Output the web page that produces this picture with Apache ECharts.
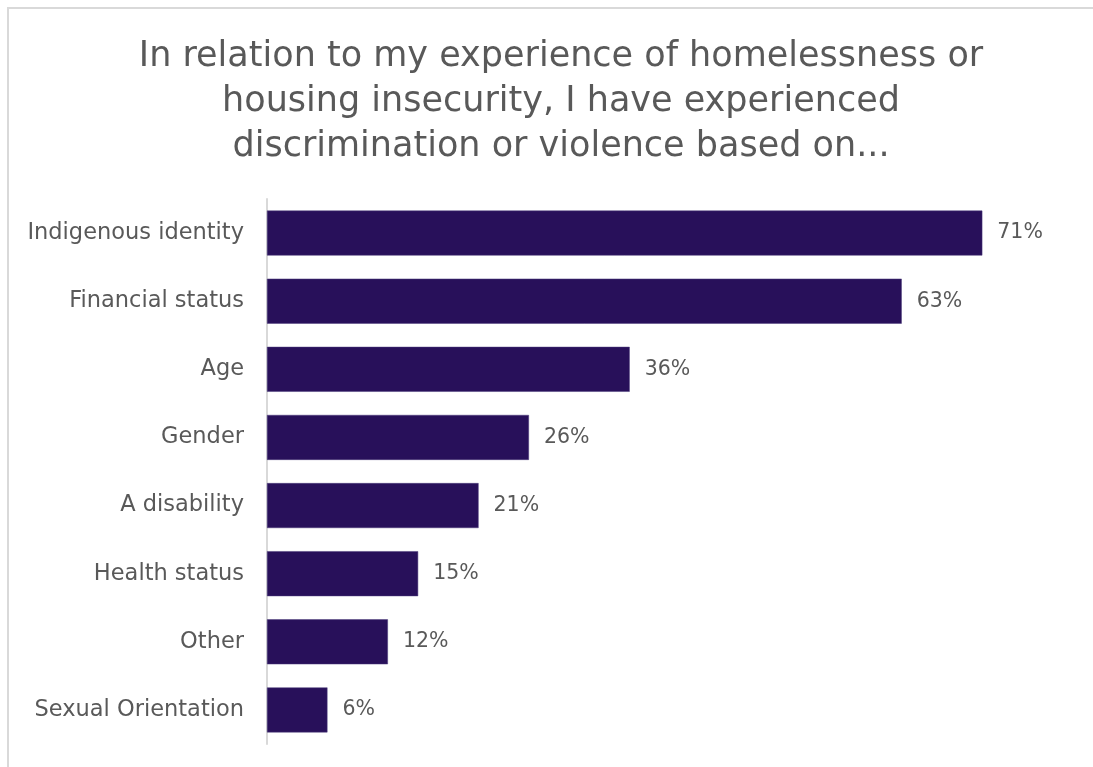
<!DOCTYPE html>
<html>
<head>
<meta charset="utf-8">
<script src="https://cdn.jsdelivr.net/npm/echarts@6/dist/echarts.min.js"></script>
<style>
  html, body { margin: 0; padding: 0; background: #ffffff; overflow: hidden; }
  #frame {
    position: absolute; left: 7px; top: 7px; width: 1100px; height: 780px;
    border: 2px solid #d9d9d9; box-sizing: border-box;
  }
  #chart { position: absolute; left: 0; top: 0; width: 1093px; height: 767px; }
</style>
</head>
<body>
<div id="frame"></div>
<div id="chart"></div>
<script>
// Survey categories, listed top to bottom
const categories = [
  'Indigenous identity',
  'Financial status',
  'Age',
  'Gender',
  'A disability',
  'Health status',
  'Other',
  'Sexual Orientation'
];
// Share of respondents (%)
const values = [71, 63, 36, 26, 21, 15, 12, 6];

const titleText = 'In relation to my experience of homelessness or\nhousing insecurity, I have experienced\ndiscrimination or violence based on...';

const chart = echarts.init(document.getElementById('chart'), null, { renderer: 'canvas' });

chart.setOption({
  animation: false,
  backgroundColor: 'transparent',
  title: {
    text: titleText,
    left: 556,
    top: 29,
    textAlign: 'center',
    textStyle: {
      fontFamily: 'DejaVu Sans',
      fontSize: 35,
      fontWeight: 'normal',
      color: '#595959',
      lineHeight: 45
    }
  },
  grid: { left: 267, top: 199, width: 806, height: 545, containLabel: false },
  xAxis: {
    type: 'value',
    min: 0,
    max: 80,
    show: false
  },
  yAxis: {
    type: 'category',
    data: categories,
    inverse: true,
    axisLine: { show: true, lineStyle: { color: '#d9d9d9', width: 2 } },
    axisTick: { show: false },
    axisLabel: {
      margin: 23,
      fontFamily: 'DejaVu Sans',
      fontSize: 22.5,
      color: '#595959'
    }
  },
  series: [{
    type: 'bar',
    data: values,
    barCategoryGap: '34%',
    itemStyle: { color: '#28105a', borderColor: '#4a3a7a', borderWidth: 0.5 },
    label: {
      show: true,
      position: 'right',
      distance: 15,
      formatter: p => p.value + '%',
      fontFamily: 'DejaVu Sans',
      fontSize: 20.5,
      color: '#595959'
    }
  }]
});
</script>
</body>
</html>
